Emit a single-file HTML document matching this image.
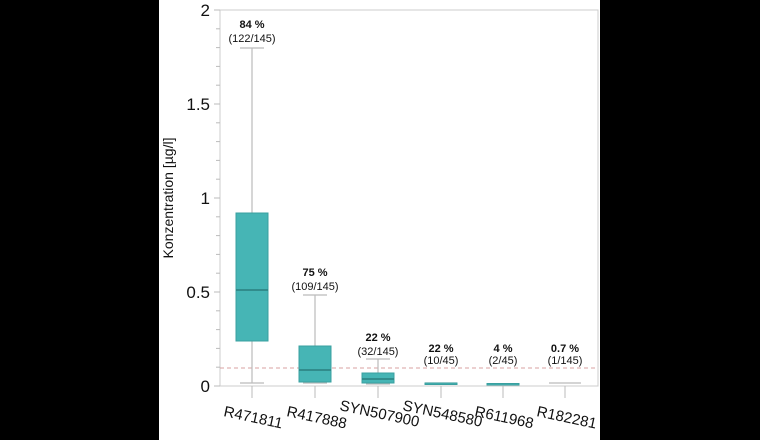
<!DOCTYPE html>
<html><head><meta charset="utf-8"><style>
html,body{margin:0;padding:0;background:#000;}
svg{display:block;}
text{font-family:"Liberation Sans",Arial,sans-serif;}
</style></head><body>
<svg width="760" height="440" viewBox="0 0 760 440" xmlns="http://www.w3.org/2000/svg">
<rect x="0" y="0" width="760" height="440" fill="#000"/>
<rect x="159" y="0" width="441" height="440" fill="#fff"/>
<rect x="220" y="10" width="378" height="376" fill="none" stroke="#ccc" stroke-width="1"/>
<g stroke="#bbb" stroke-width="1">
<line x1="214" y1="10" x2="220" y2="10"/><line x1="216" y1="28.8" x2="220" y2="28.8"/><line x1="216" y1="47.6" x2="220" y2="47.6"/><line x1="216" y1="66.4" x2="220" y2="66.4"/><line x1="216" y1="85.2" x2="220" y2="85.2"/>
<line x1="214" y1="104" x2="220" y2="104"/><line x1="216" y1="122.8" x2="220" y2="122.8"/><line x1="216" y1="141.6" x2="220" y2="141.6"/><line x1="216" y1="160.4" x2="220" y2="160.4"/><line x1="216" y1="179.2" x2="220" y2="179.2"/>
<line x1="214" y1="198" x2="220" y2="198"/><line x1="216" y1="216.8" x2="220" y2="216.8"/><line x1="216" y1="235.6" x2="220" y2="235.6"/><line x1="216" y1="254.4" x2="220" y2="254.4"/><line x1="216" y1="273.2" x2="220" y2="273.2"/>
<line x1="214" y1="292" x2="220" y2="292"/><line x1="216" y1="310.8" x2="220" y2="310.8"/><line x1="216" y1="329.6" x2="220" y2="329.6"/><line x1="216" y1="348.4" x2="220" y2="348.4"/><line x1="216" y1="367.2" x2="220" y2="367.2"/>
<line x1="214" y1="386" x2="220" y2="386"/>
</g>
<g font-size="17" fill="#111" text-anchor="end">
<text x="210" y="16">2</text><text x="210" y="110">1.5</text><text x="210" y="204">1</text><text x="210" y="298">0.5</text><text x="210" y="392">0</text>
</g>
<text transform="translate(173,198) rotate(-90)" font-size="14" text-anchor="middle" fill="#111">Konzentration [µg/l]</text>
<line x1="220" y1="368" x2="598" y2="368" stroke="#d9a0a0" stroke-width="1" stroke-dasharray="4,3"/>
<g stroke="#bbb"><line x1="252" y1="386" x2="252" y2="398"/><line x1="315" y1="386" x2="315" y2="398"/><line x1="378" y1="386" x2="378" y2="398"/><line x1="441" y1="386" x2="441" y2="398"/><line x1="503" y1="386" x2="503" y2="398"/><line x1="565" y1="386" x2="565" y2="398"/></g>
<g stroke="#bbb" stroke-width="1.2">
<line x1="252" y1="48" x2="252" y2="383"/><line x1="240" y1="48" x2="264" y2="48"/><line x1="240" y1="383" x2="264" y2="383"/>
<line x1="315" y1="295" x2="315" y2="383"/><line x1="303" y1="295" x2="327" y2="295"/><line x1="303" y1="383" x2="327" y2="383"/>
<line x1="378" y1="359" x2="378" y2="384"/><line x1="366" y1="359" x2="390" y2="359"/><line x1="366" y1="384" x2="390" y2="384"/>
<line x1="425" y1="383" x2="457" y2="383"/>
<line x1="549" y1="383" x2="581" y2="383"/>
</g>
<g fill="#46b5b5" stroke="#3aa0a0" stroke-width="1">
<rect x="236" y="213" width="32" height="128"/>
<rect x="299" y="346" width="32" height="36"/>
<rect x="362" y="373" width="32" height="10"/>
<rect x="425" y="383" width="32" height="1.5"/>
<rect x="487" y="383.5" width="32" height="1.5"/>
</g>
<g stroke="#2a7f7f" stroke-width="1.5">
<line x1="236" y1="290" x2="268" y2="290"/><line x1="299" y1="370" x2="331" y2="370"/><line x1="362" y1="379" x2="394" y2="379"/>
</g>
<g font-size="11" text-anchor="middle" fill="#111">
<text x="252" y="28" font-weight="bold">84 %</text><text x="252" y="42">(122/145)</text>
<text x="315" y="276" font-weight="bold">75 %</text><text x="315" y="290">(109/145)</text>
<text x="378" y="341" font-weight="bold">22 %</text><text x="378" y="355">(32/145)</text>
<text x="441" y="352" font-weight="bold">22 %</text><text x="441" y="364">(10/45)</text>
<text x="503" y="352" font-weight="bold">4 %</text><text x="503" y="364">(2/45)</text>
<text x="565" y="352" font-weight="bold">0.7 %</text><text x="565" y="364">(1/145)</text>
</g>
<g font-size="15" fill="#111">
<text transform="translate(223,416) rotate(12)">R471811</text>
<text transform="translate(286,416) rotate(12)">R417888</text>
<text transform="translate(339,410) rotate(12)">SYN507900</text>
<text transform="translate(402,410) rotate(12)">SYN548580</text>
<text transform="translate(474,416) rotate(12)">R611968</text>
<text transform="translate(536,416) rotate(12)">R182281</text>
</g>
</svg>
</body></html>
